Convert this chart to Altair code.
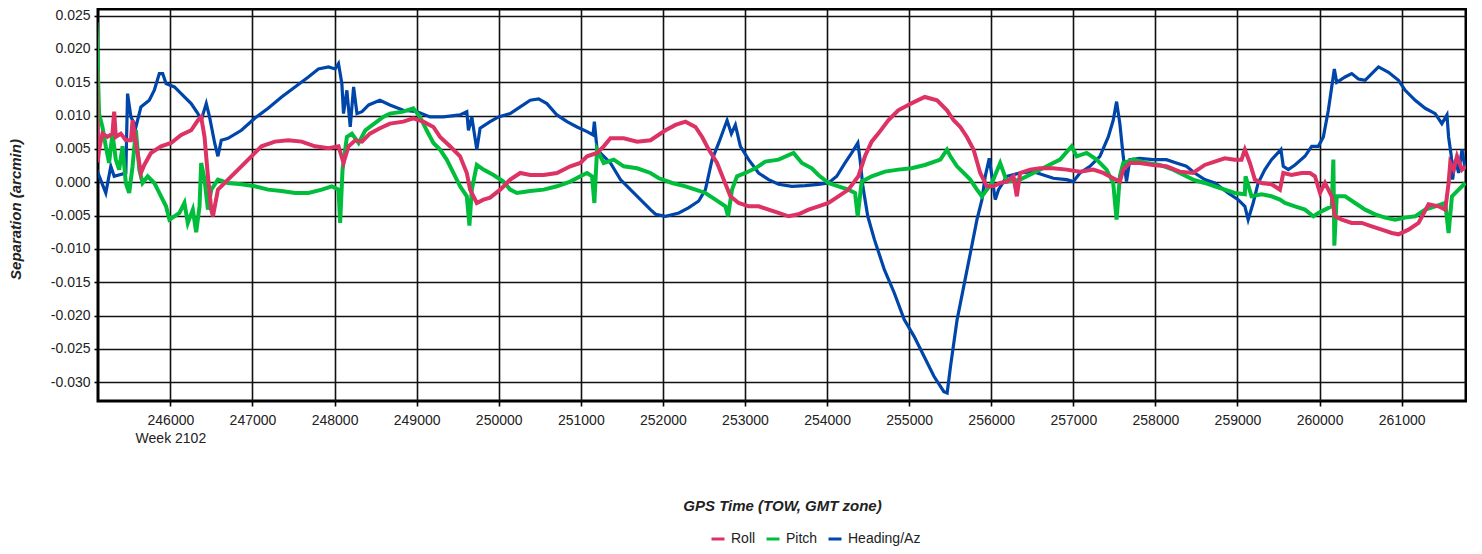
import altair as alt
import pandas as pd

# ---------------- data ----------------
series_names = ["Roll", "Pitch", "Heading/Az"]
series_colors = ["#DC3264", "#00BE3C", "#0046AA"]

head_tow = [245102, 245213, 245274, 245315, 245457, 245478, 245519, 245580, 245641, 245743,
            245804, 245865, 245906, 245947, 246049, 246131, 246253, 246335, 246375, 246437,
            246477, 246539, 246579, 246620, 246702, 246865, 247028, 247191, 247355, 247518,
            247681, 247803, 247926, 248007, 248048, 248089, 248109, 248150, 248191, 248232,
            248273, 248334, 248416, 248552, 248674, 248837, 249000, 249163, 249326, 249529,
            249611, 249631, 249672, 249733, 249773, 249895, 249997, 250140, 250262, 250384,
            250486, 250587, 250709, 250832, 250954, 251076, 251149, 251165, 251198, 251279,
            251361, 251483, 251605, 251727, 251849, 251911, 252032, 252194, 252316, 252437,
            252518, 252599, 252680, 252782, 252834, 252883, 252944, 253045, 253166, 253288,
            253409, 253571, 253733, 253895, 254017, 254118, 254219, 254300, 254375, 254402,
            254436, 254496, 254577, 254698, 254819, 254940, 255060, 255181, 255302, 255423,
            255463, 255504, 255584, 255665, 255746, 255826, 255887, 255927, 255976, 256008,
            256049, 256089, 256190, 256352, 256514, 256636, 256757, 256919, 257000, 257081,
            257203, 257324, 257426, 257486, 257527, 257567, 257608, 257648, 257689, 257810,
            257972, 258134, 258256, 258377, 258479, 258601, 258723, 258886, 259008, 259090,
            259130, 259191, 259252, 259334, 259415, 259529, 259558, 259619, 259700, 259822,
            259904, 259985, 260046, 260107, 260148, 260180, 260209, 260311, 260392, 260473,
            260555, 260636, 260718, 260840, 260962, 261043, 261165, 261287, 261409, 261490,
            261552, 261572, 261605, 261621, 261654, 261694, 261735, 261776]
head_val = [0.0019, -0.0016, 0.0024, 0.0009, 0.0014, 0.0133, 0.0098, 0.0083, 0.0113, 0.0123,
            0.0138, 0.0163, 0.0163, 0.0148, 0.0143, 0.0133, 0.0118, 0.0103, 0.0093, 0.0118,
            0.0098, 0.0059, 0.0039, 0.0063, 0.0066, 0.0078, 0.0096, 0.0111, 0.0128, 0.0143,
            0.0158, 0.0170, 0.0173, 0.0170, 0.0178, 0.0148, 0.0103, 0.0138, 0.0083, 0.0143,
            0.0103, 0.0106, 0.0116, 0.0123, 0.0116, 0.0108, 0.0106, 0.0098, 0.0098, 0.0101,
            0.0106, 0.0078, 0.0098, 0.0049, 0.0081, 0.0091, 0.0098, 0.0103, 0.0113, 0.0123,
            0.0125, 0.0118, 0.0101, 0.0091, 0.0083, 0.0076, 0.0071, 0.0091, 0.0049, 0.0039,
            0.0029, 0.0004, -0.0011, -0.0026, -0.0041, -0.0048, -0.0051, -0.0046, -0.0038, -0.0028,
            -0.0011, 0.0034, 0.0059, 0.0093, 0.0073, 0.0086, 0.0054, 0.0034, 0.0014, 0.0004,
            -0.0003, -0.0006, -0.0005, -0.0003, -0.0001, 0.0009, 0.0029, 0.0044, 0.0059, 0.0034,
            -0.0006, -0.0051, -0.0086, -0.0131, -0.0166, -0.0206, -0.0231, -0.0261, -0.0291, -0.0314,
            -0.0316, -0.0276, -0.0206, -0.0156, -0.0106, -0.0056, -0.0026, 0.0009, 0.0036, 0.0009,
            -0.0026, -0.0011, 0.0009, 0.0014, 0.0016, 0.0011, 0.0006, 0.0004, 0.0001, 0.0014,
            0.0024, 0.0039, 0.0068, 0.0093, 0.0121, 0.0088, 0.0039, 0.0001, 0.0034, 0.0036,
            0.0034, 0.0034, 0.0029, 0.0024, 0.0014, 0.0004, -0.0001, -0.0016, -0.0026, -0.0036,
            -0.0056, -0.0031, -0.0001, 0.0019, 0.0034, 0.0049, 0.0024, 0.0019, 0.0026, 0.0039,
            0.0054, 0.0054, 0.0068, 0.0108, 0.0143, 0.0170, 0.0150, 0.0158, 0.0163, 0.0155,
            0.0153, 0.0163, 0.0173, 0.0165, 0.0153, 0.0138, 0.0123, 0.0111, 0.0103, 0.0088,
            0.0101, 0.0068, 0.0039, 0.0004, 0.0034, 0.0014, 0.0049, 0.0019]

roll_tow = [245100, 245115, 245131, 245172, 245233, 245294, 245315, 245335, 245396, 245457,
            245519, 245539, 245580, 245621, 245641, 245682, 245763, 245886, 246008, 246131,
            246253, 246335, 246375, 246416, 246457, 246498, 246518, 246579, 246702, 246865,
            246987, 247110, 247273, 247436, 247599, 247763, 247926, 248048, 248109, 248171,
            248252, 248334, 248430, 248552, 248674, 248837, 248959, 249081, 249204, 249285,
            249407, 249529, 249611, 249651, 249733, 249814, 249895, 250018, 250140, 250262,
            250384, 250547, 250709, 250872, 250994, 251076, 251198, 251279, 251361, 251523,
            251686, 251849, 252032, 252154, 252275, 252397, 252478, 252559, 252660, 252741,
            252822, 252923, 253045, 253166, 253288, 253409, 253531, 253652, 253774, 253895,
            254017, 254138, 254260, 254381, 254462, 254543, 254624, 254746, 254867, 254989,
            255070, 255191, 255340, 255461, 255542, 255623, 255704, 255785, 255866, 255947,
            256028, 256109, 256190, 256271, 256312, 256352, 256474, 256595, 256757, 256919,
            257081, 257243, 257365, 257486, 257567, 257608, 257689, 257810, 257972, 258134,
            258296, 258458, 258601, 258723, 258845, 258967, 259049, 259090, 259151, 259212,
            259293, 259415, 259517, 259558, 259659, 259781, 259883, 259944, 260005, 260066,
            260148, 260188, 260270, 260392, 260514, 260636, 260758, 260880, 260962, 261084,
            261206, 261328, 261450, 261531, 261572, 261592, 261633, 261674, 261735, 261776]
roll_val = [0.0170, 0.0030, 0.0049, 0.0073, 0.0068, 0.0073, 0.0106, 0.0068, 0.0073, 0.0063,
            0.0063, 0.0093, 0.0059, 0.0029, 0.0014, 0.0026, 0.0044, 0.0054, 0.0059, 0.0071,
            0.0078, 0.0093, 0.0098, 0.0068, 0.0009, -0.0041, -0.0051, -0.0011, 0.0004, 0.0024,
            0.0039, 0.0054, 0.0061, 0.0063, 0.0061, 0.0054, 0.0051, 0.0054, 0.0029, 0.0054,
            0.0063, 0.0061, 0.0073, 0.0081, 0.0088, 0.0091, 0.0096, 0.0091, 0.0083, 0.0068,
            0.0054, 0.0039, 0.0014, -0.0011, -0.0031, -0.0026, -0.0023, -0.0011, 0.0004, 0.0014,
            0.0011, 0.0011, 0.0014, 0.0024, 0.0029, 0.0039, 0.0044, 0.0054, 0.0066, 0.0066,
            0.0061, 0.0063, 0.0078, 0.0086, 0.0091, 0.0083, 0.0068, 0.0049, 0.0029, 0.0004,
            -0.0021, -0.0031, -0.0036, -0.0036, -0.0041, -0.0046, -0.0051, -0.0048, -0.0041, -0.0036,
            -0.0031, -0.0021, -0.0011, 0.0009, 0.0039, 0.0061, 0.0073, 0.0093, 0.0108, 0.0116,
            0.0121, 0.0128, 0.0123, 0.0108, 0.0093, 0.0083, 0.0068, 0.0049, 0.0014, -0.0006,
            -0.0006, -0.0001, 0.0001, 0.0009, -0.0021, 0.0014, 0.0019, 0.0021, 0.0021, 0.0019,
            0.0016, 0.0019, 0.0014, 0.0006, 0.0001, 0.0019, 0.0029, 0.0029, 0.0026, 0.0024,
            0.0016, 0.0014, 0.0026, 0.0031, 0.0036, 0.0034, 0.0034, 0.0049, 0.0029, 0.0004,
            -0.0001, -0.0003, -0.0011, 0.0014, 0.0011, 0.0014, 0.0014, 0.0009, -0.0016, -0.0001,
            -0.0021, -0.0051, -0.0056, -0.0061, -0.0061, -0.0066, -0.0071, -0.0076, -0.0078, -0.0071,
            -0.0061, -0.0033, -0.0036, -0.0041, -0.0001, 0.0029, 0.0019, 0.0039, 0.0019, 0.0024]

pitch_tow = [245100, 245131, 245172, 245213, 245253, 245294, 245335, 245376, 245417, 245457,
             245498, 245539, 245580, 245621, 245661, 245723, 245804, 245886, 245947, 245988,
             246049, 246110, 246171, 246212, 246273, 246314, 246355, 246375, 246416, 246457,
             246498, 246579, 246702, 246865, 247028, 247191, 247355, 247518, 247681, 247844,
             247966, 248048, 248068, 248097, 248150, 248211, 248293, 248375, 248430, 248593,
             248674, 248837, 248959, 249041, 249122, 249204, 249285, 249366, 249448, 249529,
             249611, 249643, 249672, 249733, 249814, 249936, 250058, 250140, 250221, 250384,
             250547, 250709, 250872, 250994, 251076, 251137, 251165, 251198, 251279, 251401,
             251523, 251686, 251849, 251951, 252113, 252275, 252397, 252518, 252640, 252761,
             252794, 252842, 252903, 253004, 253126, 253247, 253409, 253592, 253693, 253814,
             253895, 254017, 254138, 254260, 254341, 254373, 254422, 254543, 254705, 254867,
             255029, 255191, 255380, 255461, 255502, 255583, 255664, 255745, 255826, 255887,
             255947, 256008, 256109, 256190, 256352, 256514, 256676, 256838, 256980, 257041,
             257162, 257284, 257405, 257486, 257527, 257567, 257608, 257729, 257891, 258053,
             258215, 258377, 258479, 258601, 258723, 258845, 258967, 259090, 259098, 259171,
             259293, 259415, 259517, 259578, 259700, 259822, 259924, 259985, 260066, 260148,
             260168, 260180, 260209, 260311, 260433, 260555, 260677, 260799, 260921, 261043,
             261165, 261287, 261409, 261531, 261572, 261613, 261694, 261776]
pitch_val = [0.0240, 0.0103, 0.0083, 0.0054, 0.0029, 0.0073, 0.0034, 0.0019, 0.0054, -0.0001,
             -0.0016, 0.0024, 0.0078, 0.0019, -0.0001, 0.0009, -0.0001, -0.0021, -0.0036, -0.0056,
             -0.0051, -0.0046, -0.0031, -0.0061, -0.0041, -0.0075, -0.0036, 0.0029, 0.0004, -0.0041,
             -0.0011, 0.0004, -0.0001, -0.0003, -0.0006, -0.0011, -0.0013, -0.0016, -0.0016, -0.0011,
             -0.0006, -0.0011, -0.0061, 0.0019, 0.0068, 0.0073, 0.0059, 0.0078, 0.0083, 0.0098,
             0.0103, 0.0106, 0.0111, 0.0098, 0.0078, 0.0059, 0.0049, 0.0034, 0.0014, -0.0006,
             -0.0021, -0.0065, -0.0011, 0.0026, 0.0019, 0.0011, 0.0001, -0.0011, -0.0016, -0.0013,
             -0.0011, -0.0006, 0.0001, 0.0009, 0.0014, 0.0009, -0.0031, 0.0049, 0.0029, 0.0034,
             0.0024, 0.0021, 0.0014, 0.0006, -0.0001, -0.0006, -0.0011, -0.0016, -0.0026, -0.0036,
             -0.0051, -0.0011, 0.0009, 0.0014, 0.0021, 0.0031, 0.0034, 0.0044, 0.0029, 0.0021,
             0.0011, -0.0001, -0.0006, -0.0011, -0.0016, -0.0051, 0.0001, 0.0009, 0.0016, 0.0019,
             0.0021, 0.0026, 0.0034, 0.0049, 0.0039, 0.0024, 0.0014, 0.0004, -0.0011, -0.0021,
             -0.0011, -0.0001, 0.0029, 0.0001, 0.0004, 0.0014, 0.0024, 0.0034, 0.0054, 0.0039,
             0.0044, 0.0034, 0.0019, -0.0001, -0.0056, 0.0009, 0.0029, 0.0034, 0.0029, 0.0026,
             0.0019, 0.0009, 0.0003, -0.0001, -0.0006, -0.0011, -0.0016, -0.0018, 0.0009, -0.0021,
             -0.0018, -0.0021, -0.0026, -0.0031, -0.0036, -0.0041, -0.0051, -0.0046, -0.0041, -0.0036,
             0.0034, -0.0095, -0.0021, -0.0021, -0.0031, -0.0041, -0.0048, -0.0053, -0.0056, -0.0053,
             -0.0051, -0.0041, -0.0036, -0.0031, -0.0076, -0.0021, -0.0011, -0.0001]

x_ticks = [246000, 247000, 248000, 249000, 250000, 251000, 252000, 253000,
           254000, 255000, 256000, 257000, 258000, 259000, 260000, 261000, 262000]
y_ticks = [-0.030, -0.025, -0.020, -0.015, -0.010, -0.005, 0.0,
           0.005, 0.010, 0.015, 0.020, 0.025]
x_domain = [245118, 261784]
y_domain = [-0.0328, 0.02599]

# ---------------- table ----------------
rows = []
for name, tows, vals in [("Heading/Az", head_tow, head_val),
                         ("Pitch", pitch_tow, pitch_val),
                         ("Roll", roll_tow, roll_val)]:
    for t, v in zip(tows, vals):
        rows.append({"series": name, "tow": t, "val": v})
df = pd.DataFrame(rows)

FONT = "Liberation Sans"

x_axis = alt.Axis(
    values=x_ticks,
    labelExpr="datum.value == 246000 ? ['246000', 'Week 2102'] : format(datum.value, 'd')",
    grid=True, gridColor="#111111", gridWidth=1.6,
    domain=False,
    ticks=True, tickColor="#000000", tickSize=5, tickWidth=1.6,
    labelFont=FONT, labelFontSize=14, labelColor="#222222",
    labelPadding=7, labelLineHeight=18,
    labelOverlap=False, labelFlush=False, labelBound=False,
    title="GPS Time (TOW, GMT zone)",
    titleFont=FONT, titleFontSize=15, titleFontStyle="italic", titleFontWeight="bold",
    titleColor="#222222", titleX=684, titleY=104, titleAlign="center", titleBaseline="middle",
)

y_axis = alt.Axis(
    values=y_ticks,
    labelExpr="replace(format(datum.value, '.3f'), '\u2212', '-')",
    grid=True, gridColor="#111111", gridWidth=1.6,
    domain=False,
    ticks=True, tickColor="#000000", tickSize=4, tickWidth=1.6,
    labelFont=FONT, labelFontSize=14, labelColor="#222222", labelPadding=4,
    labelOverlap=False, labelFlush=False, labelBound=False,
    title="Separation (arcmin)",
    titleFont=FONT, titleFontSize=15, titleFontStyle="italic", titleFontWeight="bold",
    titleColor="#222222", titleX=-83, titleY=200, titleAngle=270,
    titleAlign="center", titleBaseline="middle",
)

color = alt.Color(
    "series:N",
    scale=alt.Scale(domain=series_names, range=series_colors),
    legend=alt.Legend(
        orient="none", legendX=612, legendY=522, direction="horizontal",
        title=None, symbolType="stroke", symbolStrokeWidth=3, symbolSize=169,
        labelFont=FONT, labelFontSize=14, labelColor="#222222",
        labelOffset=5, columnPadding=4, padding=0,
    ),
)

base = alt.Chart(df).encode(
    x=alt.X("tow:Q", scale=alt.Scale(domain=x_domain, nice=False, zero=False), axis=x_axis),
    y=alt.Y("val:Q", scale=alt.Scale(domain=y_domain, nice=False, zero=False), axis=y_axis),
    color=color,
)

layers = []
for name, w in [("Heading/Az", 3.2), ("Pitch", 4.0), ("Roll", 4.0)]:
    layers.append(
        base.transform_filter(alt.datum.series == name).mark_line(strokeWidth=w, clip=True)
    )

chart = alt.layer(*layers).properties(
    width=1368, height=392,
    autosize=alt.AutoSizeParams(type="none"),
    padding={"left": 90, "top": 1, "right": 1, "bottom": 145},
).configure(
    font=FONT,
    view=alt.ViewConfig(stroke="#000000", strokeWidth=3),
)

chart.save("out.html", embed_options={"renderer": "svg", "actions": False})
